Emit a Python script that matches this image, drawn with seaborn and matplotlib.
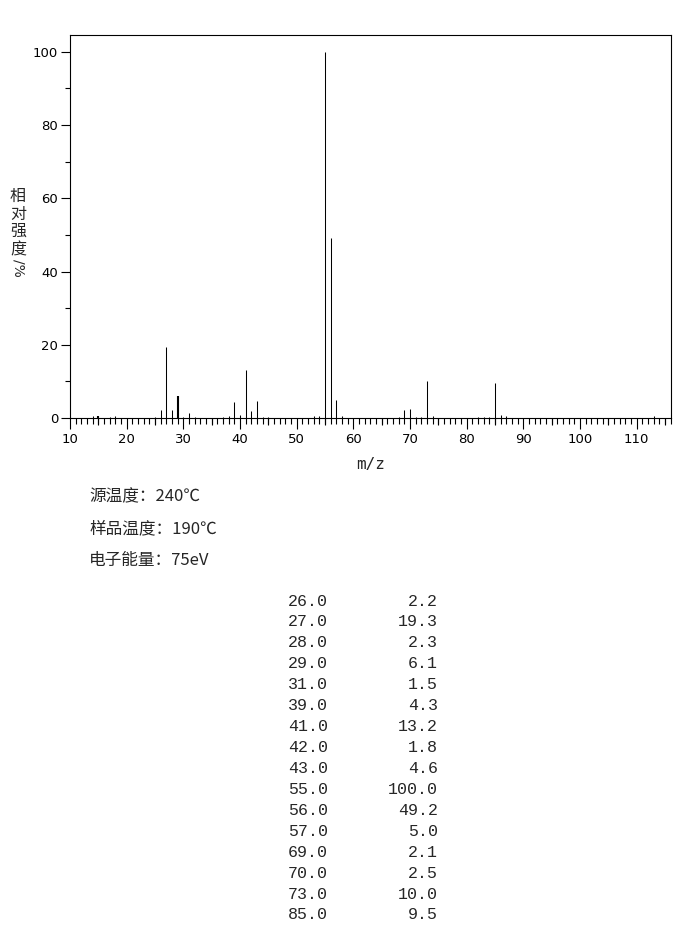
import matplotlib
matplotlib.use("Agg")
import matplotlib.pyplot as plt
import seaborn as sns
import pandas as pd
from matplotlib.ticker import MultipleLocator

# ---- data ----
mz = [14, 15, 17, 18, 25, 26, 27, 28, 29, 30, 31, 32, 37, 38, 39, 40, 41, 42, 43,
      44, 45, 53, 54, 55, 56, 57, 58, 68, 69, 70, 71, 72, 73, 74, 82, 83, 84, 85,
      86, 87, 113]
intensity = [0.5, 0.6, 0.4, 0.6, 0.4, 2.2, 19.3, 2.3, 6.1, 0.4, 1.5, 0.4, 0.4, 0.6,
             4.3, 0.9, 13.2, 1.8, 4.6, 0.4, 0.3, 0.5, 0.5, 100.0, 49.2, 5.0, 0.6,
             0.4, 2.1, 2.5, 0.4, 0.4, 10.0, 0.6, 0.4, 0.4, 0.4, 9.5, 0.9, 0.6, 0.6]

x_ticks = [10, 20, 30, 40, 50, 60, 70, 80, 90, 100, 110]
x_mid_ticks = [15, 25, 35, 45, 55, 65, 75, 85, 95, 105, 115]
y_ticks = [0, 20, 40, 60, 80, 100]

info_lines = ["源温度：240℃", "样品温度：190℃", "电子能量：75eV"]

table_mz = ["26.0", "27.0", "28.0", "29.0", "31.0", "39.0", "41.0", "42.0",
            "43.0", "55.0", "56.0", "57.0", "69.0", "70.0", "73.0", "85.0"]
table_int = ["2.2", "19.3", "2.3", "6.1", "1.5", "4.3", "13.2", "1.8",
             "4.6", "100.0", "49.2", "5.0", "2.1", "2.5", "10.0", "9.5"]

# peaks drawn as thicker lines in the reference (style only)
thick_peaks = [15, 29]

df = pd.DataFrame({"mz": mz, "intensity": intensity})

sns.set_style("ticks")
plt.rcParams["font.family"] = ["DejaVu Sans", "Noto Sans CJK SC"]

W, H = 696, 950
fig = plt.figure(figsize=(W / 100, H / 100), dpi=100)
L, R, T, B = 70, 671, 35, 418
ax = fig.add_axes([L / W, 1 - B / H, (R - L) / W, (B - T) / H])

sns.barplot(data=df, x="mz", y="intensity", native_scale=True, width=0.02,
            color="black", edgecolor="black", linewidth=0.75, errorbar=None,
            ax=ax, saturation=1)

for p in ax.patches:
    cx = p.get_x() + p.get_width() / 2
    p.set_snap(True)
    if round(cx) in thick_peaks:
        p.set_linewidth(1.5)

ax.set_xlim(10, 116.05)
ax.set_ylim(0, 104.6)
ax.set_xticks(x_ticks)
ax.set_xticklabels([str(v) for v in x_ticks])
ax.set_yticks(y_ticks)
ax.set_yticklabels([str(v) for v in y_ticks])
ax.xaxis.set_minor_locator(MultipleLocator(1))
ax.yaxis.set_minor_locator(MultipleLocator(10))
ax.tick_params(axis="x", which="major", length=8, width=0.8, labelsize=9.5,
               pad=3, color="black", labelcolor="black")
ax.tick_params(axis="x", which="minor", length=4.3, width=0.8, color="black")
ax.tick_params(axis="y", which="major", length=6.5, width=0.8, labelsize=9.5,
               pad=2, color="black", labelcolor="black")
ax.tick_params(axis="y", which="minor", length=3.6, width=0.8, color="black")
for s in ax.spines.values():
    s.set_visible(True)
    s.set_linewidth(0.8)
    s.set_color("black")

# medium-length ticks at the fives
sec = ax.secondary_xaxis("bottom")
sec.set_xticks(x_mid_ticks)
sec.tick_params(axis="x", which="major", length=5.3, width=0.8, color="black",
                labelbottom=False)
sec.xaxis.set_minor_locator(matplotlib.ticker.NullLocator())
sec.spines["bottom"].set_visible(False)

ax.set_xlabel("m/z", fontsize=11.5, labelpad=8, family="DejaVu Sans Mono")
ax.set_ylabel("")
ax.grid(False)

# stacked vertical y label
ylab_chars = ["相", "对", "强", "度"]
ys = [196.5, 214, 231.5, 249.5]
for ch, yy in zip(ylab_chars, ys):
    fig.text(18 / W, 1 - yy / H, ch, ha="center", va="center", fontsize=11.5,
             family=["Noto Sans CJK SC"])
fig.text(18 / W, 1 - 268 / H, "/%", ha="center", va="center", fontsize=10,
         rotation=270, family=["DejaVu Sans"])

# info lines
for i, line in enumerate(info_lines):
    fig.text(89 / W, 1 - (497 + 31.5 * i) / H, line, ha="left", va="center",
             fontsize=12, family=["Noto Sans CJK SC", "DejaVu Sans"])

# peak table
for i, (a, b) in enumerate(zip(table_mz, table_int)):
    yy = 601 + 20.93 * i
    fig.text(328 / W, 1 - yy / H, a, ha="right", va="center", fontsize=12,
             family="Liberation Mono")
    fig.text(438 / W, 1 - yy / H, b, ha="right", va="center", fontsize=12,
             family="Liberation Mono")

fig.savefig("out.png", dpi=100)
